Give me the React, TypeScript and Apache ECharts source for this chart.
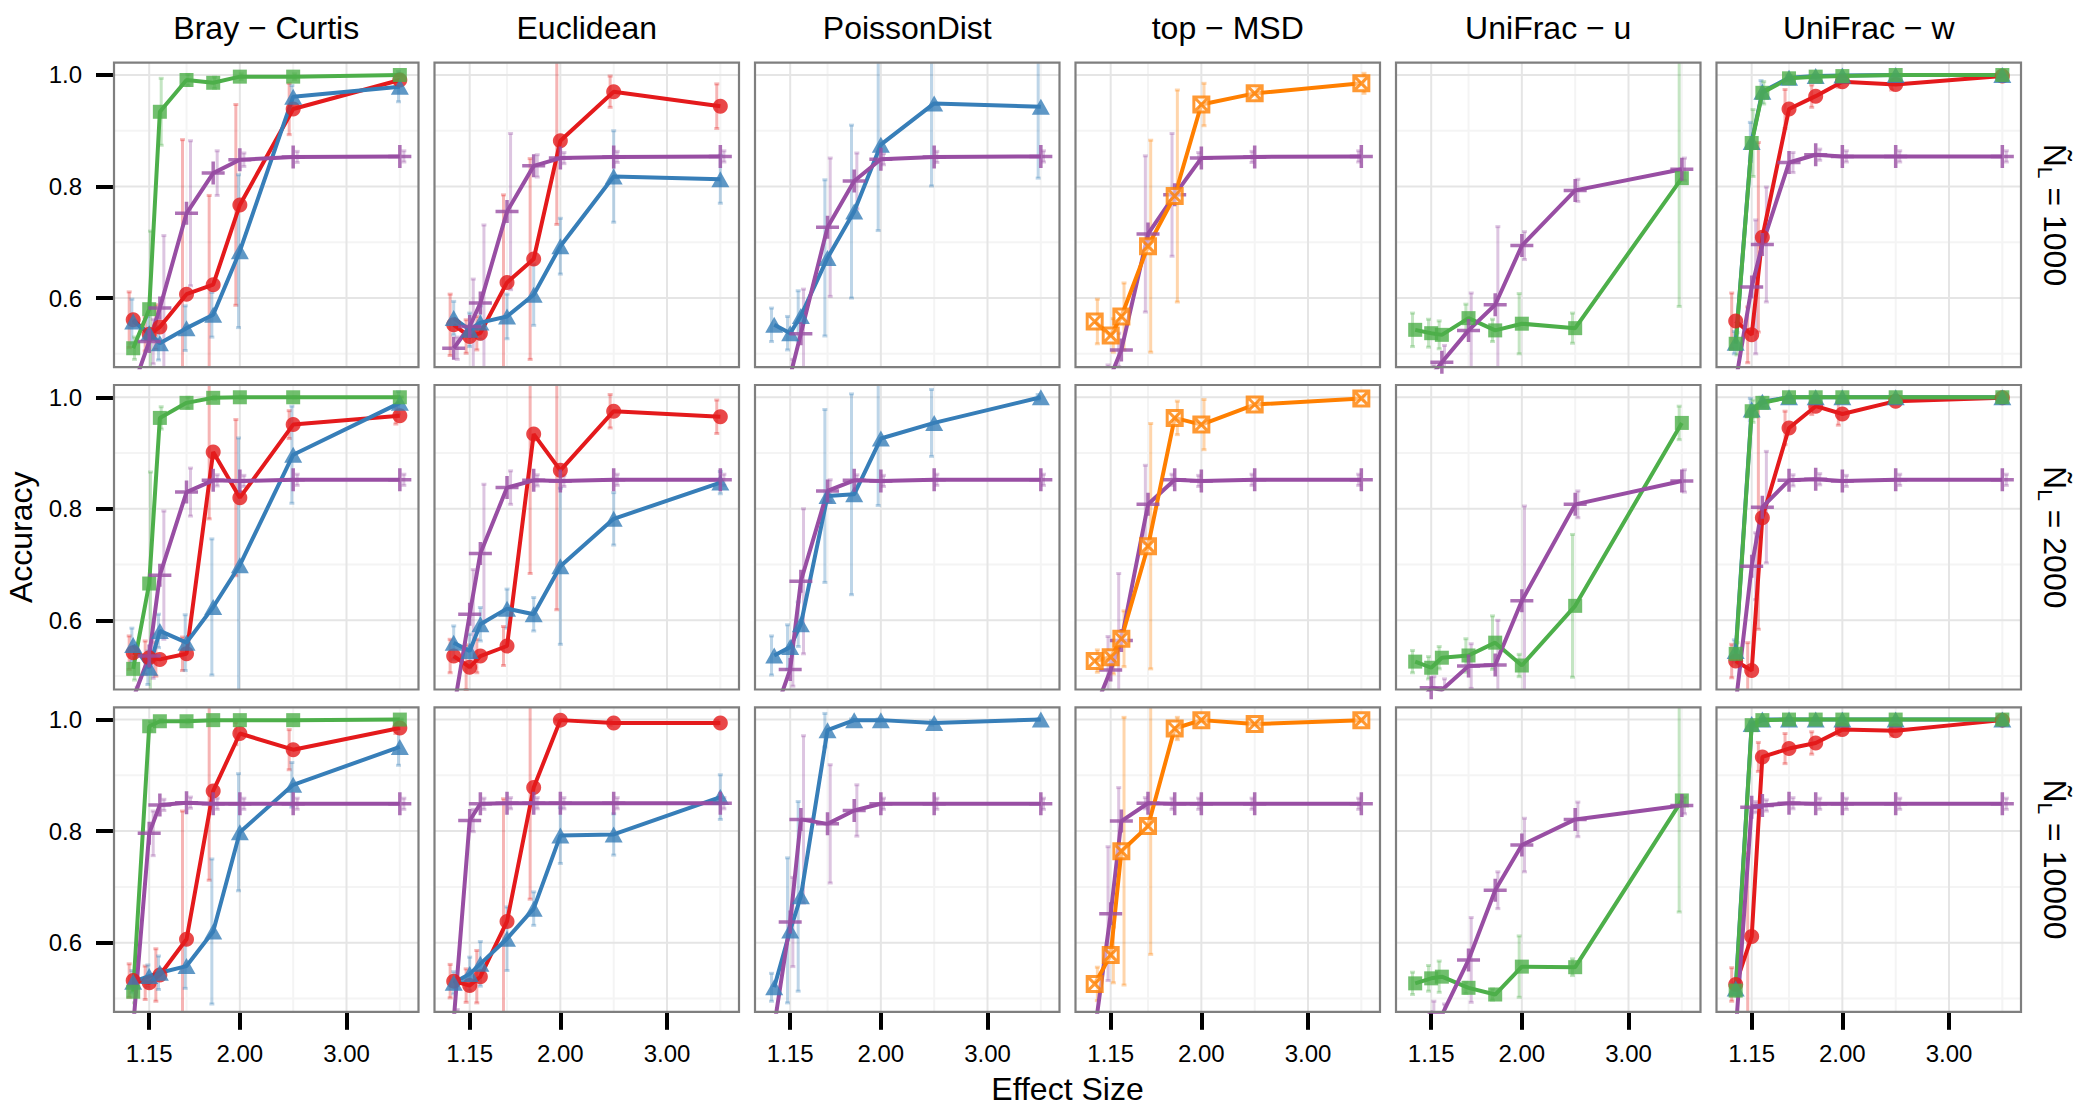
import React, { useEffect, useRef } from "react";
import * as echarts from "echarts";

// ---------------- data ----------------
const EFFECT = [1.0, 1.15, 1.25, 1.5, 1.75, 2.0, 2.5, 3.5];
const X_TICKS = [1.15, 2.0, 3.0];
const X_MINOR = [1.5, 2.5, 3.5];
const Y_TICKS = [0.6, 0.8, 1.0];
const Y_MINOR = [0.5, 0.7, 0.9];
const X_LIMITS = [0.82, 3.675];
const Y_LIMITS = [0.476, 1.022];
const DISTANCES = ["Bray \u2212 Curtis", "Euclidean", "PoissonDist", "top \u2212 MSD", "UniFrac \u2212 u", "UniFrac \u2212 w"];
const DEPTHS = ["1000", "2000", "10000"];

// N = 1000
const BC1_red = [0.561, 0.535, 0.548, 0.607, 0.624, 0.767, 0.939, 0.991];
const BC1_red_sd = [0.05, 0.03, 0.04, 0.277, 0.16, 0.18, 0.046, 0.01];
const BC1_blue = [0.558, 0.537, 0.519, 0.546, 0.57, 0.684, 0.961, 0.979];
const BC1_blue_sd = [0.04, 0.03, 0.03, 0.04, 0.04, 0.137, 0.02, 0.027];
const BC1_green = [0.51, 0.58, 0.934, 0.991, 0.986, 0.997, 0.997, 1.0];
const BC1_green_sd = [0.02, 0.14, 0.06, 0.01, 0.01, 0.005, 0.005, 0.002];
const BC1_purple = [0.44, 0.522, 0.582, 0.752, 0.824, 0.848, 0.853, 0.854];
const BC1_purple_sd = [0.02, 0.04, 0.13, 0.13, 0.04, 0.012, 0.01, 0.01];

const EU1_red = [0.552, 0.531, 0.537, 0.628, 0.67, 0.882, 0.97, 0.944];
const EU1_red_sd = [0.055, 0.03, 0.03, 0.157, 0.18, 0.15, 0.028, 0.04];
const EU1_blue = [0.564, 0.543, 0.556, 0.567, 0.606, 0.693, 0.818, 0.813];
const EU1_blue_sd = [0.03, 0.03, 0.03, 0.04, 0.055, 0.05, 0.082, 0.043];
const EU1_purple = [0.51, 0.549, 0.591, 0.755, 0.837, 0.851, 0.853, 0.854];
const EU1_purple_sd = [0.02, 0.085, 0.14, 0.14, 0.02, 0.01, 0.01, 0.01];

const PD1_blue = [0.552, 0.537, 0.568, 0.672, 0.755, 0.875, 0.949, 0.943];
const PD1_blue_sd = [0.03, 0.03, 0.045, 0.14, 0.155, 0.154, 0.148, 0.128];
const PD1_purple = [0.42, 0.46, 0.536, 0.727, 0.81, 0.849, 0.853, 0.854];
const PD1_purple_sd = [0.02, 0.03, 0.08, 0.124, 0.05, 0.01, 0.01, 0.01];

const TM1_orange = [0.558, 0.533, 0.567, 0.693, 0.783, 0.947, 0.967, 0.985];
const TM1_orange_sd = [0.04, 0.03, 0.06, 0.19, 0.19, 0.038, 0.01, 0.018];
const TM1_purple = [0.42, 0.46, 0.507, 0.715, 0.785, 0.851, 0.853, 0.854];
const TM1_purple_sd = [0.02, 0.02, 0.03, 0.14, 0.11, 0.01, 0.01, 0.01];

const UU1_green = [0.543, 0.537, 0.534, 0.564, 0.542, 0.554, 0.546, 0.815];
const UU1_green_sd = [0.03, 0.025, 0.025, 0.025, 0.02, 0.054, 0.027, 0.23];
const UU1_purple = [0.43, 0.46, 0.485, 0.542, 0.588, 0.694, 0.793, 0.831];
const UU1_purple_sd = [0.03, 0.02, 0.03, 0.067, 0.14, 0.025, 0.02, 0.02];

const UW1_red = [0.559, 0.534, 0.709, 0.939, 0.962, 0.988, 0.983, 0.998];
const UW1_red_sd = [0.05, 0.05, 0.17, 0.035, 0.02, 0.01, 0.01, 0.003];
const UW1_blue = [0.52, 0.88, 0.97, 0.995, 0.998, 0.999, 1.0, 1.0];
const UW1_blue_sd = [0.02, 0.035, 0.02, 0.005, 0.003, 0.002, 0.001, 0.001];
const UW1_green = [0.518, 0.878, 0.968, 0.994, 0.997, 0.998, 1.0, 1.0];
const UW1_green_sd = [0.02, 0.06, 0.02, 0.005, 0.003, 0.002, 0.001, 0.001];
const UW1_purple = [0.45, 0.62, 0.696, 0.843, 0.857, 0.854, 0.854, 0.854];
const UW1_purple_sd = [0.02, 0.12, 0.103, 0.018, 0.01, 0.01, 0.01, 0.01];

// N = 2000
const BC2_red = [0.542, 0.533, 0.53, 0.54, 0.902, 0.82, 0.951, 0.967];
const BC2_red_sd = [0.03, 0.03, 0.03, 0.03, 0.12, 0.14, 0.025, 0.015];
const BC2_blue = [0.556, 0.515, 0.581, 0.56, 0.624, 0.699, 0.897, 0.99];
const BC2_blue_sd = [0.03, 0.03, 0.03, 0.05, 0.122, 0.228, 0.087, 0.02];
const BC2_green = [0.513, 0.666, 0.963, 0.99, 0.999, 1.0, 1.0, 1.0];
const BC2_green_sd = [0.02, 0.2, 0.02, 0.01, 0.003, 0.002, 0.001, 0.001];
const BC2_purple = [0.46, 0.536, 0.681, 0.83, 0.851, 0.85, 0.852, 0.852];
const BC2_purple_sd = [0.02, 0.04, 0.115, 0.043, 0.01, 0.01, 0.01, 0.01];

const EU2_red = [0.536, 0.516, 0.536, 0.554, 0.934, 0.869, 0.975, 0.965];
const EU2_red_sd = [0.03, 0.04, 0.03, 0.035, 0.25, 0.25, 0.03, 0.03];
const EU2_blue = [0.56, 0.545, 0.593, 0.621, 0.611, 0.697, 0.782, 0.847];
const EU2_blue_sd = [0.03, 0.03, 0.03, 0.035, 0.03, 0.14, 0.047, 0.02];
const EU2_purple = [0.44, 0.611, 0.72, 0.838, 0.851, 0.85, 0.852, 0.852];
const EU2_purple_sd = [0.02, 0.08, 0.124, 0.03, 0.01, 0.01, 0.01, 0.01];

const PD2_blue = [0.537, 0.552, 0.593, 0.823, 0.826, 0.926, 0.954, 1.0];
const PD2_blue_sd = [0.035, 0.04, 0.04, 0.155, 0.18, 0.12, 0.06, 0.005];
const PD2_purple = [0.43, 0.512, 0.67, 0.832, 0.851, 0.85, 0.852, 0.852];
const PD2_purple_sd = [0.02, 0.03, 0.13, 0.02, 0.01, 0.01, 0.01, 0.01];

const TM2_orange = [0.527, 0.534, 0.567, 0.733, 0.963, 0.951, 0.987, 0.998];
const TM2_orange_sd = [0.02, 0.03, 0.05, 0.22, 0.03, 0.045, 0.01, 0.005];
const TM2_purple = [0.44, 0.511, 0.564, 0.808, 0.852, 0.85, 0.852, 0.852];
const TM2_purple_sd = [0.02, 0.06, 0.12, 0.07, 0.01, 0.01, 0.01, 0.01];

const UU2_green = [0.526, 0.515, 0.533, 0.537, 0.56, 0.519, 0.626, 0.954];
const UU2_green_sd = [0.02, 0.02, 0.02, 0.03, 0.048, 0.02, 0.128, 0.03];
const UU2_purple = [0.44, 0.479, 0.475, 0.518, 0.52, 0.635, 0.808, 0.85];
const UU2_purple_sd = [0.02, 0.02, 0.02, 0.04, 0.08, 0.17, 0.024, 0.02];

const UW2_red = [0.527, 0.51, 0.784, 0.945, 0.984, 0.97, 0.993, 0.999];
const UW2_red_sd = [0.03, 0.05, 0.2, 0.03, 0.015, 0.02, 0.005, 0.002];
const UW2_blue = [0.545, 0.978, 0.992, 1.0, 1.0, 1.0, 1.0, 1.0];
const UW2_blue_sd = [0.02, 0.02, 0.008, 0.001, 0.001, 0.001, 0.001, 0.001];
const UW2_green = [0.54, 0.975, 0.99, 1.0, 1.0, 1.0, 1.0, 1.0];
const UW2_green_sd = [0.02, 0.02, 0.008, 0.001, 0.001, 0.001, 0.001, 0.001];
const UW2_purple = [0.45, 0.697, 0.803, 0.851, 0.853, 0.85, 0.852, 0.852];
const UW2_purple_sd = [0.02, 0.06, 0.1, 0.01, 0.01, 0.01, 0.01, 0.01];

// N = 10000
const BC3_red = [0.532, 0.528, 0.542, 0.606, 0.872, 0.975, 0.946, 0.985];
const BC3_red_sd = [0.03, 0.03, 0.047, 0.23, 0.16, 0.02, 0.036, 0.01];
const BC3_blue = [0.53, 0.54, 0.546, 0.558, 0.62, 0.798, 0.883, 0.951];
const BC3_blue_sd = [0.02, 0.02, 0.03, 0.04, 0.13, 0.105, 0.04, 0.033];
const BC3_green = [0.512, 0.988, 0.997, 0.997, 0.999, 0.999, 0.999, 1.0];
const BC3_green_sd = [0.02, 0.008, 0.003, 0.003, 0.001, 0.001, 0.001, 0.001];
const BC3_purple = [0.45, 0.796, 0.847, 0.851, 0.849, 0.849, 0.849, 0.849];
const BC3_purple_sd = [0.02, 0.04, 0.01, 0.01, 0.01, 0.01, 0.01, 0.01];

const EU3_red = [0.531, 0.523, 0.539, 0.638, 0.878, 0.999, 0.994, 0.994];
const EU3_red_sd = [0.03, 0.03, 0.047, 0.22, 0.2, 0.002, 0.004, 0.004];
const EU3_blue = [0.528, 0.544, 0.562, 0.607, 0.661, 0.792, 0.794, 0.861];
const EU3_blue_sd = [0.02, 0.03, 0.04, 0.057, 0.03, 0.05, 0.037, 0.04];
const EU3_purple = [0.46, 0.819, 0.849, 0.85, 0.85, 0.85, 0.85, 0.85];
const EU3_purple_sd = [0.02, 0.02, 0.01, 0.01, 0.01, 0.01, 0.01, 0.01];

const PD3_blue = [0.52, 0.622, 0.683, 0.981, 0.999, 0.999, 0.994, 1.0];
const PD3_blue_sd = [0.025, 0.13, 0.17, 0.03, 0.002, 0.002, 0.004, 0.001];
const PD3_purple = [0.45, 0.637, 0.821, 0.813, 0.837, 0.849, 0.849, 0.849];
const PD3_purple_sd = [0.02, 0.08, 0.15, 0.106, 0.046, 0.01, 0.01, 0.01];

const TM3_orange = [0.526, 0.578, 0.764, 0.809, 0.984, 0.999, 0.992, 0.999];
const TM3_orange_sd = [0.03, 0.05, 0.24, 0.23, 0.02, 0.003, 0.005, 0.002];
const TM3_purple = [0.44, 0.652, 0.818, 0.85, 0.849, 0.849, 0.849, 0.849];
const TM3_purple_sd = [0.02, 0.12, 0.06, 0.01, 0.01, 0.01, 0.01, 0.01];

const UU3_green = [0.527, 0.536, 0.539, 0.519, 0.507, 0.557, 0.556, 0.855];
const UU3_green_sd = [0.02, 0.023, 0.028, 0.01, 0.01, 0.055, 0.015, 0.2];
const UU3_purple = [0.44, 0.475, 0.47, 0.569, 0.694, 0.775, 0.821, 0.846];
const UU3_purple_sd = [0.02, 0.02, 0.02, 0.076, 0.033, 0.048, 0.031, 0.015];

const UW3_red = [0.525, 0.611, 0.933, 0.948, 0.958, 0.982, 0.98, 0.999];
const UW3_red_sd = [0.03, 0.15, 0.026, 0.027, 0.02, 0.01, 0.01, 0.002];
const UW3_blue = [0.518, 0.992, 1.0, 1.0, 1.0, 1.0, 1.0, 1.0];
const UW3_blue_sd = [0.01, 0.005, 0.001, 0.001, 0.001, 0.001, 0.001, 0.001];
const UW3_green = [0.514, 0.99, 0.999, 1.0, 1.0, 1.0, 1.0, 1.0];
const UW3_green_sd = [0.01, 0.005, 0.001, 0.001, 0.001, 0.001, 0.001, 0.001];
const UW3_purple = [0.44, 0.843, 0.846, 0.85, 0.849, 0.849, 0.849, 0.849];
const UW3_purple_sd = [0.02, 0.01, 0.01, 0.01, 0.01, 0.01, 0.01, 0.01];

type M = "red" | "blue" | "green" | "purple" | "orange";
type S = { m: M; v: number[]; sd: number[] };
const s = (m: M, v: number[], sd: number[]): S => ({ m, v, sd });

// rows: depth, cols: distance
const PANELS: S[][][] = [
  [
    [s("red", BC1_red, BC1_red_sd), s("blue", BC1_blue, BC1_blue_sd), s("green", BC1_green, BC1_green_sd), s("purple", BC1_purple, BC1_purple_sd)],
    [s("red", EU1_red, EU1_red_sd), s("blue", EU1_blue, EU1_blue_sd), s("purple", EU1_purple, EU1_purple_sd)],
    [s("blue", PD1_blue, PD1_blue_sd), s("purple", PD1_purple, PD1_purple_sd)],
    [s("purple", TM1_purple, TM1_purple_sd), s("orange", TM1_orange, TM1_orange_sd)],
    [s("green", UU1_green, UU1_green_sd), s("purple", UU1_purple, UU1_purple_sd)],
    [s("red", UW1_red, UW1_red_sd), s("blue", UW1_blue, UW1_blue_sd), s("green", UW1_green, UW1_green_sd), s("purple", UW1_purple, UW1_purple_sd)],
  ],
  [
    [s("red", BC2_red, BC2_red_sd), s("blue", BC2_blue, BC2_blue_sd), s("green", BC2_green, BC2_green_sd), s("purple", BC2_purple, BC2_purple_sd)],
    [s("red", EU2_red, EU2_red_sd), s("blue", EU2_blue, EU2_blue_sd), s("purple", EU2_purple, EU2_purple_sd)],
    [s("blue", PD2_blue, PD2_blue_sd), s("purple", PD2_purple, PD2_purple_sd)],
    [s("purple", TM2_purple, TM2_purple_sd), s("orange", TM2_orange, TM2_orange_sd)],
    [s("green", UU2_green, UU2_green_sd), s("purple", UU2_purple, UU2_purple_sd)],
    [s("red", UW2_red, UW2_red_sd), s("blue", UW2_blue, UW2_blue_sd), s("green", UW2_green, UW2_green_sd), s("purple", UW2_purple, UW2_purple_sd)],
  ],
  [
    [s("red", BC3_red, BC3_red_sd), s("blue", BC3_blue, BC3_blue_sd), s("green", BC3_green, BC3_green_sd), s("purple", BC3_purple, BC3_purple_sd)],
    [s("red", EU3_red, EU3_red_sd), s("blue", EU3_blue, EU3_blue_sd), s("purple", EU3_purple, EU3_purple_sd)],
    [s("blue", PD3_blue, PD3_blue_sd), s("purple", PD3_purple, PD3_purple_sd)],
    [s("purple", TM3_purple, TM3_purple_sd), s("orange", TM3_orange, TM3_orange_sd)],
    [s("green", UU3_green, UU3_green_sd), s("purple", UU3_purple, UU3_purple_sd)],
    [s("red", UW3_red, UW3_red_sd), s("blue", UW3_blue, UW3_blue_sd), s("green", UW3_green, UW3_green_sd), s("purple", UW3_purple, UW3_purple_sd)],
  ],
];

// ---------------- styles / layout ----------------
const W = 2081;
const H = 1106;
const FONT = '"Liberation Sans", Arial, Helvetica, sans-serif';
const COL_LEFT = 114;
const COL_STEP = 320.5;
const ROW_TOP = 62.7;
const ROW_STEP = 322.3;
const PANEL = 304.5;
const DODGE = 0.1;

const COLORS: Record<M, string> = {
  red: "#E41A1C",
  blue: "#377EB8",
  green: "#4DAF4A",
  purple: "#984EA3",
  orange: "#FF7F00",
};
const ERR: Record<M, string> = {
  red: "rgba(228,26,28,0.33)",
  blue: "rgba(55,126,184,0.33)",
  green: "rgba(77,175,74,0.33)",
  purple: "rgba(152,78,163,0.33)",
  orange: "rgba(255,127,0,0.33)",
};
const ORDER: Record<M, number> = { red: 0, blue: 1, green: 2, purple: 3, orange: 4 };

function markerStyle(m: M): any {
  const c = COLORS[m];
  switch (m) {
    case "red":
      return { symbol: "circle", symbolSize: 15, itemStyle: { color: c, borderWidth: 0 } };
    case "blue":
      return { symbol: "triangle", symbolSize: [18, 16], itemStyle: { color: c, borderWidth: 0 } };
    case "green":
      return { symbol: "rect", symbolSize: 14, itemStyle: { color: c, borderWidth: 0 } };
    case "purple":
      return {
        symbol: "path://M10,0V20M0,10H20",
        symbolSize: 23,
        itemStyle: { color: c, borderColor: c, borderWidth: 3.5 },
      };
    default:
      return {
        symbol: "path://M0,0H20V20H0ZM0,0L20,20M20,0L0,20",
        symbolSize: 15,
        itemStyle: { color: "rgba(255,255,255,0.6)", borderColor: c, borderWidth: 3 },
      };
  }
}

function buildOption() {
  const grid: any[] = [];
  const xAxis: any[] = [];
  const yAxis: any[] = [];
  const series: any[] = [];
  const graphic: any[] = [];
  let idx = 0;

  for (let r = 0; r < DEPTHS.length; r++) {
    for (let c = 0; c < DISTANCES.length; c++) {
      const left = COL_LEFT + c * COL_STEP;
      const top = ROW_TOP + r * ROW_STEP;
      grid.push({
        left,
        top,
        width: PANEL,
        height: PANEL,
        show: true,
        borderColor: "#7f7f7f",
        borderWidth: 2.2,
        backgroundColor: "rgba(0,0,0,0)",
        z: 10,
      });
      const bottomRow = r === DEPTHS.length - 1;
      const leftCol = c === 0;
      xAxis.push({
        type: "value",
        gridIndex: idx,
        min: X_LIMITS[0],
        max: X_LIMITS[1],
        axisLine: { show: false },
        splitLine: { show: false },
        axisTick: {
          show: bottomRow,
          customValues: X_TICKS,
          length: 18,
          lineStyle: { color: "#000", width: 4 },
        },
        axisLabel: {
          show: bottomRow,
          customValues: X_TICKS,
          formatter: (v: number) => v.toFixed(2),
          fontSize: 24,
          fontFamily: FONT,
          color: "#000",
          margin: 30,
        },
      });
      yAxis.push({
        type: "value",
        gridIndex: idx,
        min: Y_LIMITS[0],
        max: Y_LIMITS[1],
        axisLine: { show: false },
        splitLine: { show: false },
        axisTick: {
          show: leftCol,
          customValues: Y_TICKS,
          length: 18,
          lineStyle: { color: "#000", width: 4 },
        },
        axisLabel: {
          show: leftCol,
          customValues: Y_TICKS,
          formatter: (v: number) => v.toFixed(1),
          fontSize: 24,
          fontFamily: FONT,
          color: "#000",
          margin: 32,
        },
      });

      // grid lines
      series.push({
        type: "custom",
        xAxisIndex: idx,
        yAxisIndex: idx,
        silent: true,
        z: 1,
        data: [[2, 0.8]],
        renderItem: (params: any, api: any) => {
          const cs = params.coordSys;
          const children: any[] = [];
          const vline = (v: number, col: string) => {
            const px = api.coord([v, Y_LIMITS[0]])[0];
            children.push({
              type: "line",
              shape: { x1: px, y1: cs.y, x2: px, y2: cs.y + cs.height },
              style: { stroke: col, lineWidth: 2 },
            });
          };
          const hline = (v: number, col: string) => {
            const py = api.coord([X_LIMITS[0], v])[1];
            children.push({
              type: "line",
              shape: { x1: cs.x, y1: py, x2: cs.x + cs.width, y2: py },
              style: { stroke: col, lineWidth: 2 },
            });
          };
          X_MINOR.forEach((v) => vline(v, "#f4f4f4"));
          Y_MINOR.forEach((v) => hline(v, "#f4f4f4"));
          X_TICKS.forEach((v) => vline(v, "#e5e5e5"));
          Y_TICKS.forEach((v) => hline(v, "#e5e5e5"));
          return { type: "group", children };
        },
      });

      const list = PANELS[r][c];
      const n = list.length;
      // error bars
      list.forEach((sr, i) => {
        const off = (i - (n - 1) / 2) * (DODGE / n);
        series.push({
          type: "custom",
          name: sr.m + " sd",
          xAxisIndex: idx,
          yAxisIndex: idx,
          silent: true,
          z: 2,
          data: EFFECT.map((x, k) => [x, sr.v[k], sr.sd[k]]),
          renderItem: (params: any, api: any) => {
            const cs = params.coordSys;
            const x = api.value(0) + off;
            const y = api.value(1);
            const d = api.value(2);
            const pTop = api.coord([x, y + d]);
            const pBot = api.coord([x, y - d]);
            const y1 = Math.max(pTop[1], cs.y);
            const y2 = Math.min(pBot[1], cs.y + cs.height);
            if (y1 >= y2) return null;
            const px = pTop[0];
            const st = { stroke: ERR[sr.m], lineWidth: 3 };
            const children: any[] = [
              { type: "line", shape: { x1: px, y1, x2: px, y2 }, style: st },
            ];
            if (pTop[1] >= cs.y)
              children.push({ type: "line", shape: { x1: px - 2.5, y1: pTop[1], x2: px + 2.5, y2: pTop[1] }, style: st });
            if (pBot[1] <= cs.y + cs.height)
              children.push({ type: "line", shape: { x1: px - 2.5, y1: pBot[1], x2: px + 2.5, y2: pBot[1] }, style: st });
            return { type: "group", children };
          },
        });
      });
      // lines
      list.forEach((sr) => {
        series.push({
          type: "line",
          name: sr.m,
          xAxisIndex: idx,
          yAxisIndex: idx,
          silent: true,
          clip: true,
          z: 3,
          showSymbol: false,
          data: EFFECT.map((x, k) => [x, sr.v[k]]),
          lineStyle: { color: COLORS[sr.m], width: 4 },
          itemStyle: { color: COLORS[sr.m] },
        });
      });
      // points
      list.forEach((sr) => {
        series.push({
          type: "scatter",
          name: sr.m + " pts",
          xAxisIndex: idx,
          yAxisIndex: idx,
          silent: true,
          clip: true,
          z: 4 + ORDER[sr.m] * 0.01,
          data: EFFECT.map((x, k) => [x, sr.v[k]]),
          ...markerStyle(sr.m),
        });
      });
      idx++;
    }
  }

  // strip titles
  DISTANCES.forEach((t, c) => {
    graphic.push({
      type: "text",
      x: COL_LEFT + c * COL_STEP + PANEL / 2,
      y: 27.5,
      style: { text: t, fontSize: 32, fontFamily: FONT, fill: "#000", align: "center", verticalAlign: "middle" },
    });
  });

  // right strip labels
  const canvas = document.createElement("canvas");
  const ctx = canvas.getContext("2d")!;
  const mw = (txt: string, size: number) => {
    ctx.font = `${size}px ${FONT}`;
    return ctx.measureText(txt).width;
  };
  DEPTHS.forEach((d, r) => {
    const cy = ROW_TOP + r * ROW_STEP + PANEL / 2;
    const rest = " = " + d;
    const wN = mw("\u00D1", 32);
    const wL = mw("L", 21);
    const wR = mw(rest, 32);
    const x0 = -(wN + wL + wR) / 2;
    graphic.push({
      type: "group",
      x: 2054.5,
      y: cy,
      rotation: -Math.PI / 2,
      children: [
        { type: "text", x: x0, y: 0, style: { text: "\u00D1", fontSize: 32, fontFamily: FONT, fill: "#000", align: "left", verticalAlign: "middle" } },
        { type: "text", x: x0 + wN, y: 9, style: { text: "L", fontSize: 21, fontFamily: FONT, fill: "#000", align: "left", verticalAlign: "middle" } },
        { type: "text", x: x0 + wN + wL, y: 0, style: { text: rest, fontSize: 32, fontFamily: FONT, fill: "#000", align: "left", verticalAlign: "middle" } },
      ],
    });
  });

  // axis titles
  graphic.push({
    type: "text",
    x: 21,
    y: ROW_TOP + (2 * ROW_STEP + PANEL) / 2,
    rotation: Math.PI / 2,
    style: { text: "Accuracy", fontSize: 32, fontFamily: FONT, fill: "#000", align: "center", verticalAlign: "middle" },
  });
  graphic.push({
    type: "text",
    x: COL_LEFT + (5 * COL_STEP + PANEL) / 2,
    y: 1089,
    style: { text: "Effect Size", fontSize: 32, fontFamily: FONT, fill: "#000", align: "center", verticalAlign: "middle" },
  });

  return {
    animation: false,
    backgroundColor: "#ffffff",
    textStyle: { fontFamily: FONT },
    grid,
    xAxis,
    yAxis,
    series,
    graphic,
  };
}

export default function App() {
  const ref = useRef<HTMLDivElement>(null);
  useEffect(() => {
    document.body.style.margin = "0";
    const chart = echarts.init(ref.current!, undefined, { renderer: "svg" });
    chart.setOption(buildOption() as any);
    return () => {
      chart.dispose();
    };
  }, []);
  return <div ref={ref} style={{ width: W, height: H }} />;
}
